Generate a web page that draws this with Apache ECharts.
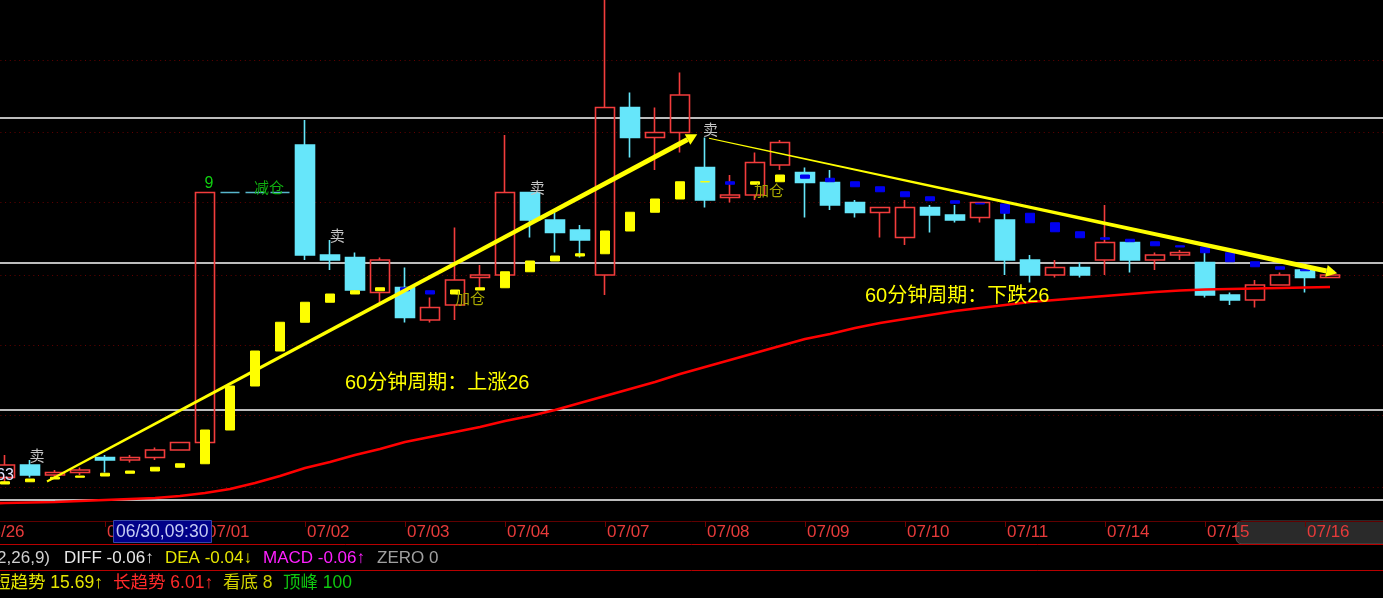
<!DOCTYPE html>
<html><head><meta charset="utf-8">
<script src="https://cdn.jsdelivr.net/npm/echarts@6/dist/echarts.min.js"></script>
<style>html,body{margin:0;padding:0;background:#000;overflow:hidden}#c{width:1383px;height:598px}</style>
</head><body><div id="c"></div>
<script>
// ---- categories (60-minute bars) ----
const dayNames = ['06/26','06/27','06/30','07/01','07/02','07/03','07/04','07/07','07/08','07/09','07/10','07/11','07/14','07/15','07/16'];
const barTimes = ['09:30','10:30','13:00','14:00'];
const labeledDays = ['06/26','06/30','07/01','07/02','07/03','07/04','07/07','07/08','07/09','07/10','07/11','07/14','07/15','07/16'];
const crosshairBar = '06/30,09:30';

// ---- candles (bars 06/27 09:30 ... 07/16 10:30) ----
const candleOpen  = [9.86,9.91,9.87,9.88,9.94,9.93,9.94,9.97,10.00,11.00,11.00,11.00,11.19,10.75,10.74,10.60,10.62,10.49,10.55,10.66,10.67,11.00,10.89,10.85,10.67,11.34,11.22,11.24,11.10,10.98,10.99,11.11,11.08,11.04,10.96,10.92,10.82,10.94,10.91,10.90,10.89,10.73,10.67,10.70,10.73,10.80,10.73,10.75,10.72,10.59,10.57,10.63,10.69,10.66];
const candleClose = [9.91,9.87,9.88,9.89,9.93,9.94,9.97,10.00,11.00,11.00,11.00,11.00,10.75,10.73,10.61,10.73,10.50,10.54,10.65,10.67,11.00,10.89,10.84,10.81,11.34,11.22,11.24,11.39,10.97,10.99,11.12,11.20,11.04,10.95,10.92,10.94,10.94,10.91,10.89,10.96,10.73,10.67,10.70,10.67,10.80,10.73,10.75,10.76,10.59,10.57,10.63,10.67,10.66,10.67];
const candleLow   = [9.84,9.86,9.86,9.87,9.88,9.92,9.93,9.97,10.00,11.00,11.00,11.00,10.73,10.69,10.60,10.56,10.48,10.48,10.49,10.61,10.66,10.82,10.76,10.74,10.59,11.14,11.09,11.16,10.94,10.96,10.97,11.09,10.90,10.93,10.90,10.82,10.79,10.84,10.88,10.88,10.67,10.64,10.66,10.66,10.67,10.68,10.69,10.73,10.58,10.55,10.54,10.63,10.60,10.66];
const candleHigh  = [9.95,9.93,9.89,9.90,9.95,9.95,9.98,10.00,11.00,11.00,11.00,11.00,11.29,10.81,10.76,10.74,10.70,10.58,10.86,10.71,11.23,11.00,10.92,10.87,11.80,11.40,11.34,11.48,11.22,11.07,11.16,11.21,11.10,11.09,10.97,10.94,10.97,10.95,10.95,10.96,10.92,10.75,10.73,10.72,10.95,10.81,10.76,10.77,10.76,10.60,10.65,10.68,10.69,10.67];

// ---- trend indicator (yellow rising / blue falling steps), value before first bar then each bar ----
const trendIndicator = [9.834,9.843,9.854,9.861,9.866,9.877,9.886,9.901,9.915,10.050,10.226,10.366,10.481,10.561,10.594,10.607,10.619,10.607,10.594,10.610,10.619,10.683,10.726,10.746,10.755,10.846,10.921,10.974,11.043,11.043,11.033,11.043,11.070,11.057,11.043,11.023,11.003,10.983,10.967,10.957,10.954,10.917,10.879,10.843,10.819,10.813,10.803,10.787,10.782,10.759,10.723,10.703,10.693,10.687,10.685];

// ---- long moving average (from 06/26 14:00) ----
const longMA = [9.756,9.758,9.760,9.762,9.766,9.770,9.774,9.778,9.786,9.798,9.814,9.838,9.866,9.898,9.922,9.950,9.974,10.002,10.022,10.042,10.062,10.086,10.106,10.130,10.158,10.186,10.214,10.242,10.274,10.302,10.330,10.358,10.386,10.414,10.434,10.458,10.478,10.494,10.510,10.526,10.538,10.550,10.562,10.570,10.578,10.586,10.594,10.602,10.608,10.612,10.614,10.616,10.618,10.620,10.622];

// ---- horizontal price levels ----
const levelLines = [11.298, 10.718, 10.134, 9.774];
const gridLevels = [11.526, 11.242, 10.958, 10.674, 10.390, 10.106, 9.822];

// ---- drawn trend arrows (bar position, price) ----
const arrowStartBar = [1.68, 28.16];
const arrowStartPrice = [9.844, 11.217];
const arrowEndBar = [27.69, 53.29];
const arrowEndPrice = [11.233, 10.677];

// ---- annotations (bar position, price, text, kind) ----
const annoText  = ['60分钟周期：上涨26','60分钟周期：下跌26','卖','卖','卖','卖','加仓','加仓','9','减仓','63'];
const annoBar   = [13.6, 34.4, 1.28, 13.29, 21.29, 28.22, 18.6, 30.56, 8.16, 10.56, 0.36];
const annoPrice = [10.238, 10.586, 9.95, 10.83, 11.022, 11.252, 10.578, 11.01, 11.034, 11.022, 9.866];
const annoKind  = ['trend','trend','sell','sell','sell','sell','add','add','count','reduce','price'];

// ---- status rows ----
const macdRow = [['MACD(12,26,9)','#d0d0d0'],['DIFF -0.06↑','#e8e8e8'],['DEA -0.04↓','#e6e600'],['MACD -0.06↑','#ff20ff'],['ZERO 0','#a0a0a0']];
const trendRow = [['短趋势 15.69↑','#e6e600'],['长趋势 6.01↑','#ff2a2a'],['看底 8','#d0d000'],['顶峰 100','#10c810']];

// ================= build =================
const categories = [];
dayNames.forEach((d, di) => {
  const times = di === 0 ? barTimes.slice(3) : barTimes;
  times.forEach(t => categories.push(d + ',' + t));
});
const firstBar = 1;
const N = categories.length;
const labelIdx = new Set();
labeledDays.forEach(d => { const i = categories.findIndex(c => c.startsWith(d + ',')); if (i >= 0) labelIdx.add(i); });

const CYAN = '#66e6fa', RED = '#f23c3c', FLAT = '#58b6cc';
const candleData = new Array(N).fill(null).map(() => ['-','-','-','-']);
for (let k = 0; k < candleOpen.length; k++) {
  const v = [candleOpen[k], candleClose[k], candleLow[k], candleHigh[k]];
  if (v[0] === v[1] && v[2] === v[3]) {
    candleData[k + firstBar] = { value: v, itemStyle: { color: FLAT, borderColor: FLAT, color0: FLAT, borderColor0: FLAT } };
  } else candleData[k + firstBar] = v;
}
const indData = new Array(N).fill(null).map(() => ['-','-','-','-']);
for (let k = 0; k < trendIndicator.length - 1; k++) {
  const a = trendIndicator[k], b = trendIndicator[k + 1];
  indData[k + firstBar] = [a, b, Math.min(a, b), Math.max(a, b)];
}
const maData = new Array(N).fill('-');
longMA.forEach((v, i) => { maData[i] = v; });

const arrowData = arrowStartBar.map((x, i) => [x, arrowStartPrice[i], arrowEndBar[i], arrowEndPrice[i]]);
const arrowStartW = [2, 1], arrowEndW = 5;
const annoData = annoBar.map((x, i) => [x, annoPrice[i]]);
const CJK = "'Liberation Sans', Arial, 'Noto Sans CJK SC', sans-serif";
const annoStyle = {
  trend:  { color: '#ffff00', font: "20px " + CJK, align: 'left' },
  sell:   { color: '#c4c4c4', font: "15px 'Noto Sans CJK SC'", align: 'center' },
  add:    { color: '#a8a800', font: "15px 'Noto Sans CJK SC'", align: 'center' },
  count:  { color: '#10d010', font: "16px " + CJK, align: 'center' },
  reduce: { color: '#10b010', font: "15px 'Noto Sans CJK SC'", align: 'center' },
  price:  { color: '#e4e4ff', font: "16px " + CJK, align: 'right' }
};

const yMin = 9.686, yMax = 11.77;
const graphics = [];
// right gray panel in axis band
graphics.push({ type: 'rect', z: -1, shape: { x: 1236, y: 521, width: 160, height: 23, r: [6,0,0,6] }, style: { fill: '#2a2a2a', stroke: '#505050', lineWidth: 1 } });
// crosshair label
graphics.push({ type: 'rect', z: 100, shape: { x: 113.5, y: 520.5, width: 98, height: 22 }, style: { fill: '#000088', stroke: '#3848a8', lineWidth: 1 } });
graphics.push({ type: 'text', z: 101, x: 116, y: 532, style: { text: crosshairBar, fill: '#c4ccf4', font: "17.5px " + CJK, verticalAlign: 'middle' } });
// separators
graphics.push({ type: 'line', shape: { x1: 0, y1: 544.5, x2: 1383, y2: 544.5 }, style: { stroke: '#b80000', lineWidth: 1 } });
graphics.push({ type: 'line', shape: { x1: 0, y1: 570.5, x2: 1383, y2: 570.5 }, style: { stroke: '#b80000', lineWidth: 1 } });
const macdX = [50, 64, 165, 263, 377];
macdRow.forEach((r, i) => graphics.push({ type: 'text', x: macdX[i], y: 558, style: { text: r[0], fill: r[1], font: "17px " + CJK, align: i === 0 ? 'right' : 'left', verticalAlign: 'middle' } }));
const trendX = [-7, 113, 223, 283];
trendRow.forEach((r, i) => graphics.push({ type: 'text', x: trendX[i], y: 583, style: { text: r[0], fill: r[1], font: "17.5px " + CJK, verticalAlign: 'middle' } }));

const chart = echarts.init(document.getElementById('c'), null, { renderer: 'canvas' });
chart.setOption({
  backgroundColor: '#000000',
  animation: false,
  grid: { left: -32.5, right: -9.5, top: 0, bottom: 77, containLabel: false, outerBoundsMode: 'none' },
  xAxis: [{
    type: 'category', data: categories, boundaryGap: true,
    axisLine: { show: true, lineStyle: { color: '#600000', width: 1 } },
    axisTick: { show: true, alignWithLabel: true, interval: (i) => labelIdx.has(i), length: 6, lineStyle: { color: '#700000' } },
    axisLabel: { show: true, interval: (i) => labelIdx.has(i), formatter: (v) => v.split(',')[0], align: 'left', padding: [0,0,0,2], margin: 3, color: '#e63a3a', fontSize: 17, fontFamily: "'Liberation Sans', Arial, sans-serif" },
    splitLine: { show: false }
  }, {
    type: 'value', min: -1.5, max: 55.5, show: false
  }],
  yAxis: { type: 'value', min: yMin, max: yMax, show: false, splitLine: { show: false } },
  series: [
    { type: 'line', data: maData.map(() => '-'), silent: true, z: 1,
      markLine: { silent: true, symbol: 'none', z: 1, label: { show: false }, emphasis: { disabled: true },
        data: levelLines.map(p => ({ yAxis: p, lineStyle: { color: '#bcbcbc', width: 1.8, type: 'solid' } }))
          .concat(gridLevels.map(p => ({ yAxis: p, lineStyle: { color: '#640000', width: 1, type: [1, 3.7] } }))) } },
    { type: 'candlestick', data: candleData, barWidth: 19, z: 2,
      itemStyle: { color: 'rgba(0,0,0,0)', color0: CYAN, borderColor: RED, borderColor0: CYAN, borderWidth: 1.6 } },
    { type: 'candlestick', data: indData, barWidth: 9.5, z: 3,
      itemStyle: { color: '#ffff00', color0: '#0000f0', borderColor: '#ffff00', borderColor0: '#0000f0', borderWidth: 1 } },
    { type: 'line', data: maData, showSymbol: false, z: 4, lineStyle: { color: '#ff0000', width: 2.6 } },
    { type: 'custom', xAxisIndex: 1, yAxisIndex: 0, z: 5, data: arrowData,
      renderItem: (params, api) => {
        const a = api.coord([api.value(0), api.value(1)]);
        const b = api.coord([api.value(2), api.value(3)]);
        const dx = b[0] - a[0], dy = b[1] - a[1], len = Math.hypot(dx, dy);
        const ux = dx / len, uy = dy / len, nx = -uy, ny = ux;
        const w0 = arrowStartW[params.dataIndex] / 2, w1 = arrowEndW / 2, head = 11, hw = 6;
        const cx = b[0] - ux * head, cy = b[1] - uy * head;
        return { type: 'group', children: [
          { type: 'polygon', shape: { points: [[a[0]+nx*w0, a[1]+ny*w0], [cx+nx*w1, cy+ny*w1], [cx-nx*w1, cy-ny*w1], [a[0]-nx*w0, a[1]-ny*w0]] }, style: { fill: '#ffff00' } },
          { type: 'polygon', shape: { points: [[b[0], b[1]], [cx+nx*hw, cy+ny*hw], [cx-nx*hw, cy-ny*hw]] }, style: { fill: '#ffff00' } }
        ] };
      } },
    { type: 'custom', xAxisIndex: 1, yAxisIndex: 0, z: 6, data: annoData,
      renderItem: (params, api) => {
        const i = params.dataIndex;
        const p = api.coord([api.value(0), api.value(1)]);
        const st = annoStyle[annoKind[i]];
        return { type: 'text', x: p[0], y: p[1], style: { text: annoText[i], fill: st.color, font: st.font, align: st.align, verticalAlign: 'middle' } };
      } }
  ],
  graphic: graphics
});
</script></body></html>
